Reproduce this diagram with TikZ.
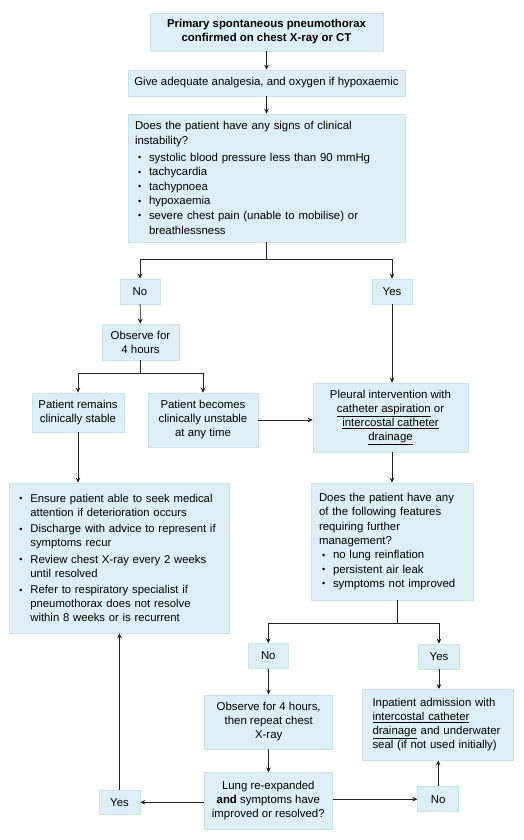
\documentclass[tikz,border=0pt]{standalone}
\usepackage{fontspec}
\setmainfont{Liberation Sans}
\usetikzlibrary{arrows.meta,calc}
\definecolor{boxfill}{HTML}{DDEEF4}
\definecolor{boxline}{HTML}{C9E3EC}
\definecolor{linec}{HTML}{222222}
\newcommand{\bul}{\makebox[14pt][l]{\hspace{3pt}\raisebox{0.6pt}{\fontsize{9}{9}\selectfont •}}}
\newcommand{\cont}{\hspace*{14pt}}
\newcommand{\bulL}{\makebox[16.4pt][l]{\hspace{5.4pt}\raisebox{0.6pt}{\fontsize{9}{9}\selectfont •}}}
\newcommand{\contL}{\hspace*{16.4pt}}
\begin{document}
\begin{tikzpicture}[x=1pt,y=-1pt,
  box/.style={fill=boxfill,draw=boxline,line width=0.6pt,inner sep=0pt,
    font=\fontsize{11.4}{14}\selectfont,align=center},
  lbox/.style={box,align=left},
  arr/.style={draw=linec,line width=0.8pt,-{Stealth[length=5pt,width=4.5pt]}},
  ln/.style={draw=linec,line width=0.8pt}]
\fill[white] (0,0) rectangle (523,840);
\useasboundingbox (0,0) rectangle (523,840);

\node[box,minimum width=233pt,minimum height=38pt,font=\fontsize{11.4}{14}\selectfont\bfseries] (n1) at (266.5,32)
  {Primary spontaneous pneumothorax\\confirmed on chest X-ray or CT};
\node[box,minimum width=277pt,minimum height=26pt] (n2) at (266.5,83)
  {Give adequate analgesia, and oxygen if hypoxaemic};
\node[lbox,text width=263pt,inner xsep=7pt,minimum height=128pt,font=\fontsize{11.4}{14.6}\selectfont] (n3) at (266.5,178)
  {Does the patient have any signs of clinical\\instability?\\[2pt]
   \bul systolic blood pressure less than 90 mmHg\\
   \bul tachycardia\\
   \bul tachypnoea\\
   \bul hypoxaemia\\
   \bul severe chest pain (unable to mobilise) or\\
   \cont breathlessness};

\node[box,minimum width=40pt,minimum height=25pt] (no1) at (140,291.5) {No};
\node[box,minimum width=40pt,minimum height=25pt] (yes1) at (392,291.5) {Yes};
\node[box,minimum width=77pt,minimum height=36pt] (obs1) at (140.5,342) {Observe for\\4 hours};
\node[box,minimum width=92pt,minimum height=39pt] (stable) at (78,412.5) {Patient remains\\clinically stable};
\node[box,minimum width=110pt,minimum height=54pt] (unstable) at (203,420) {Patient becomes\\clinically unstable\\at any time};
\node[box,minimum width=155pt,minimum height=69pt] (pleural) at (390.5,417.5)
  {Pleural intervention with\\\underline{catheter aspiration} or\\\underline{intercostal catheter}\\\underline{drainage}};

\node[lbox,text width=210pt,inner xsep=5pt,minimum height=150pt,font=\fontsize{11.3}{14}\selectfont] (advice) at (119,558)
  {\bulL Ensure patient able to seek medical\\
   \contL attention if deterioration occurs\\[2.6pt]
   \bulL Discharge with advice to represent if\\
   \contL symptoms recur\\[2.6pt]
   \bulL Review chest X-ray every 2 weeks\\
   \contL until resolved\\[2.6pt]
   \bulL Refer to respiratory specialist if\\
   \contL pneumothorax does not resolve\\
   \contL within 8 weeks or is recurrent};

\node[lbox,text width=146pt,inner xsep=8pt,minimum height=117pt,font=\fontsize{11.4}{14.3}\selectfont] (does2) at (392,541.5)
  {Does the patient have any\\of the following features\\requiring further\\management?\\
   \bul no lung reinflation\\
   \bul persistent air leak\\
   \bul symptoms not improved};

\node[box,minimum width=40pt,minimum height=25pt] (no2) at (268.3,656) {No};
\node[box,minimum width=40.6pt,minimum height=25pt] (yes2) at (439,656.5) {Yes};
\node[box,minimum width=128pt,minimum height=54pt] (obs2) at (268.7,722) {Observe for 4 hours,\\then repeat chest\\X-ray};
\node[box,minimum width=128.7pt,minimum height=56.6pt] (lung) at (268.3,801) {Lung re-expanded\\\textbf{and} symptoms have\\improved or resolved?};
\node[box,minimum width=41pt,minimum height=24.7pt] (yes3) at (119.5,802.3) {Yes};
\node[box,minimum width=41pt,minimum height=25pt] (no3) at (438.2,799.2) {No};
\node[lbox,text width=131pt,inner xsep=10pt,minimum height=70.7pt] (inp) at (438,724.7)
  {Inpatient admission with\\\underline{intercostal catheter}\\\underline{drainage} and underwater\\seal (if not used initially)};

% connectors
\draw[arr] (n1) -- (n2);
\draw[arr] (n2) -- (n3);
\coordinate (s1) at ($(n3.south)+(0,17)$);
\draw[ln] (n3.south) -- (s1);
\draw[arr] (s1) -| (no1.north);
\draw[arr] (s1) -| (yes1.north);
\draw[arr] (no1) -- (obs1);
\coordinate (s2) at ($(obs1.south)+(0,13)$);
\draw[ln] (obs1.south) -- (s2);
\draw[arr] (s2) -| (stable.north);
\draw[arr] (s2) -| (unstable.north);
\draw[arr] (unstable.east) -- (unstable.east -| pleural.west);
\draw[arr] (yes1.south) -- (yes1.south |- pleural.north);
\draw[arr] (stable.south) -- (stable.south |- advice.north);
\draw[arr] (pleural.south -| does2.north) -- (does2.north);
\coordinate (d2b) at (397,600);
\coordinate (s3) at (397,623.3);
\draw[ln] (d2b) -- (s3);
\draw[arr] (s3) -| (no2.north);
\draw[arr] (s3) -| (yes2.north);
\draw[arr] (no2) -- (obs2);
\draw[arr] (obs2) -- (lung);
\draw[arr] (lung.west |- yes3.east) -- (yes3.east);
\draw[arr] (yes3.north) -- (yes3.north |- advice.south);
\draw[arr] (lung.east |- no3.west) -- (no3.west);
\draw[arr] (no3.north) -- (no3.north |- inp.south);
\draw[arr] (yes2.south) -- (yes2.south |- inp.north);
\end{tikzpicture}
\end{document}
